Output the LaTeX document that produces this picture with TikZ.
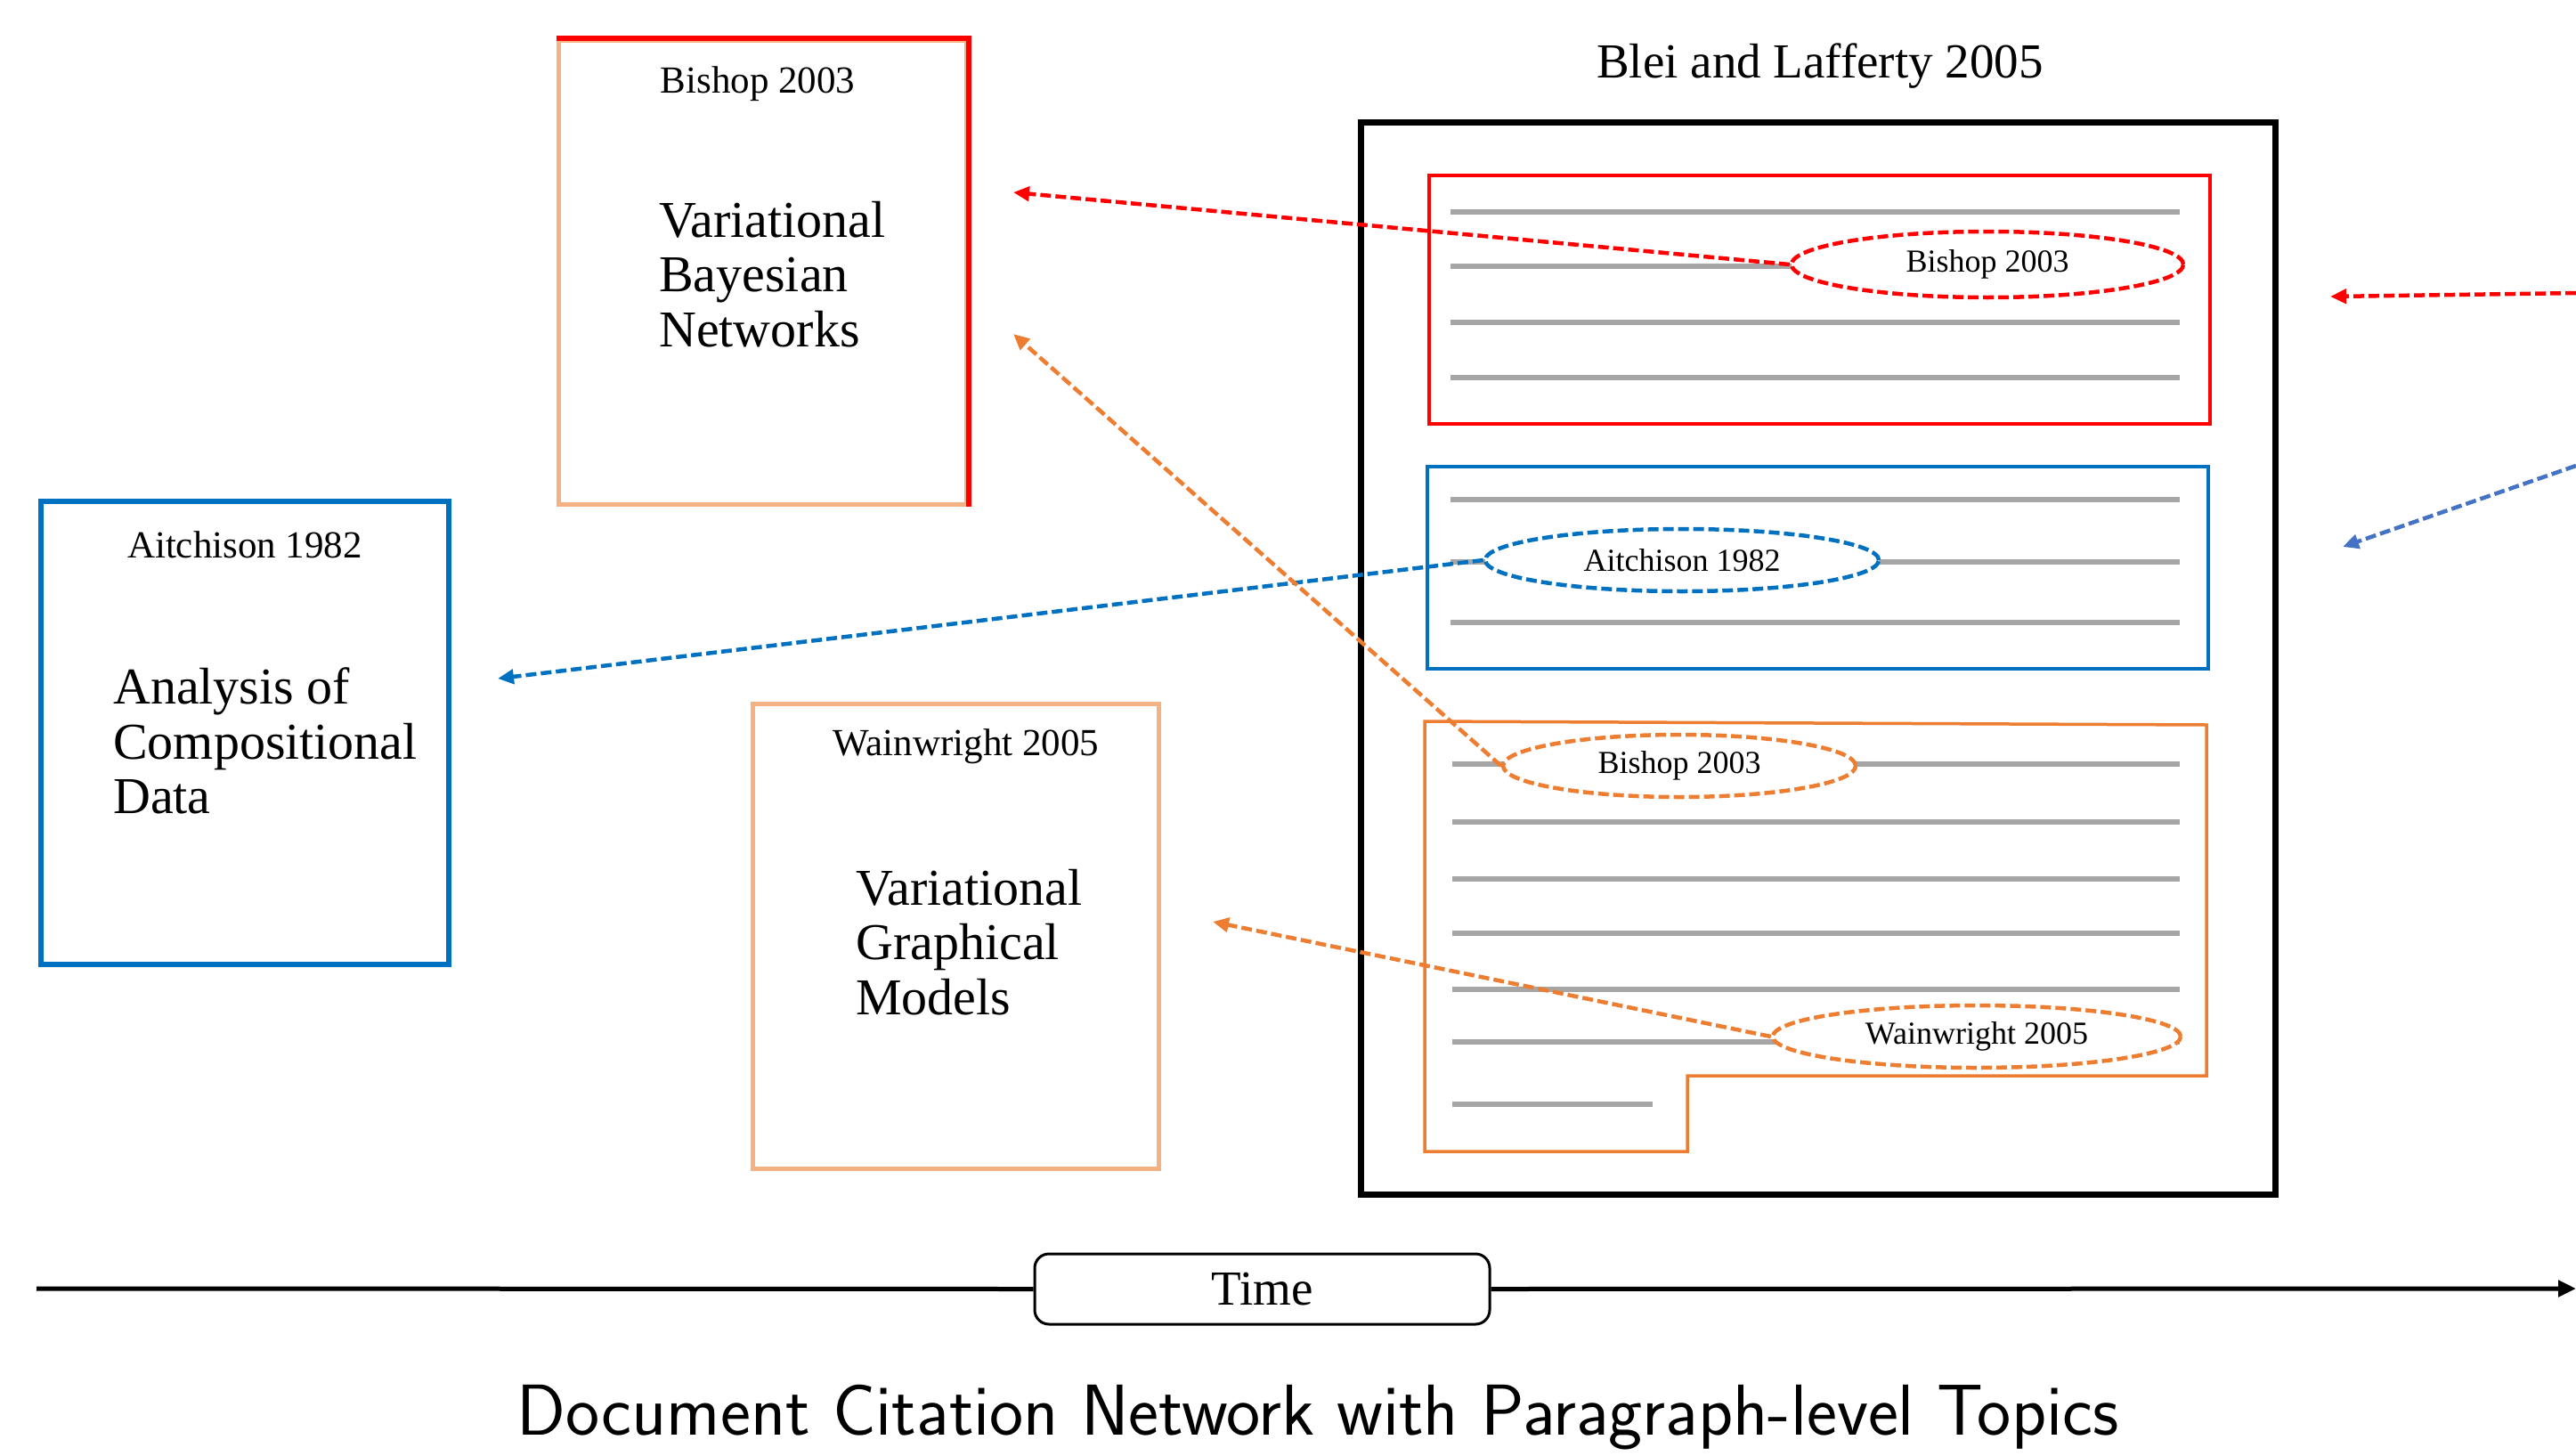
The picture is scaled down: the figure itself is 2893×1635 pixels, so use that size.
\documentclass[tikz,border=0pt]{standalone}
\usepackage{fontspec}
\setmainfont{Liberation Serif}
\usetikzlibrary{arrows.meta,shapes.geometric}
\definecolor{cred}{HTML}{FF0000}
\definecolor{cblue}{HTML}{0070C0}
\definecolor{cblueb}{HTML}{4472C4}
\definecolor{corange}{HTML}{ED7D31}
\definecolor{clight}{HTML}{F4B183}
\definecolor{cgrey}{HTML}{A6A6A6}
\tikzset{
  paper/.style={draw, line width=5pt, minimum width=458pt, minimum height=520pt, inner sep=0pt},
  parabox/.style={draw, line width=3.5pt, inner sep=0pt},
  txtline/.style={cgrey, line width=6pt},
  cite/.style={ellipse, draw, dash pattern=on 12pt off 5pt, line width=4.5pt, fill=white, inner sep=0pt, font=\fontsize{36}{40}\selectfont},
  citearrow/.style={dash pattern=on 12pt off 5pt, line width=4.5pt, -{Triangle[length=18pt,width=16pt]}},
  boxlabel/.style={font=\fontsize{43}{48}\selectfont, inner sep=0pt},
  bigtext/.style={font=\fontsize{58}{61.5}\selectfont, align=left, anchor=west, inner sep=0pt}
}
\begin{document}
\begin{tikzpicture}[x=1pt,y=-1pt]
\useasboundingbox[fill=white] (0,0) rectangle (2893,1635);

% cited papers
\node[paper, draw=clight] (bishop) at (856,306) {};
\draw[cred, line width=6pt] (bishop.north west) -- (bishop.north east) -- (bishop.south east);
\node[boxlabel] (bishoplab) at (851,94) {Bishop 2003};
\node[bigtext] (bishoptxt) at (740,308) {Variational\\Bayesian\\Networks};

\node[paper, draw=cblue, line width=6pt] (aitch) at (275,823) {};
\node[boxlabel] (aitchlab) at (275,612) {Aitchison 1982};
\node[bigtext] (aitchtxt) at (127,832) {Analysis of\\Compositional\\Data};

\node[paper, draw=clight, minimum width=456pt, minimum height=522pt] (wain) at (1073,1051) {};
\node[boxlabel] (wainlab) at (1085,838) {Wainwright 2005};
\node[bigtext] (waintxt) at (961,1058) {Variational\\Graphical\\Models};

% citing document
\node[font=\fontsize{55}{60}\selectfont, inner sep=0pt] (docttl) at (2044,74) {Blei and Lafferty 2005};
\node[draw, line width=7pt, minimum width=1027pt, minimum height=1203pt, inner sep=0pt] (doc) at (2041.5,739.5) {};

% red paragraph
\node[parabox, draw=cred, minimum width=877pt, minimum height=279pt] (pred) at (2043.5,336.5) {};
\foreach \yy in {238,299,362,424} \draw[txtline] (1629,\yy) -- (2448,\yy);
\node[cite, draw=cred, minimum width=440pt, minimum height=74pt] (ered) at (2232,297) {Bishop 2003};

% blue paragraph
\node[parabox, draw=cblue, minimum width=877pt, minimum height=227pt] (pblue) at (2041.5,637.5) {};
\foreach \yy in {561,631,699} \draw[txtline] (1629,\yy) -- (2448,\yy);
\node[cite, draw=cblue, minimum width=442pt, minimum height=70pt] (eblue) at (1889,629) {Aitchison 1982};

% orange paragraph
\draw[corange, line width=3.5pt] (1600,810) -- (2478,814) -- (2478,1208) -- (1895,1208) -- (1895,1293) -- (1600,1293) -- cycle;
\foreach \yy in {858,923,987,1048,1111,1170} \draw[txtline] (1631,\yy) -- (2448,\yy);
\draw[txtline] (1631,1240) -- (1856,1240);
\node[cite, draw=corange, minimum width=396pt, minimum height=70pt] (eob) at (1886,860) {Bishop 2003};
\node[cite, draw=corange, minimum width=458pt, minimum height=70pt] (eow) at (2220,1164) {Wainwright 2005};

% citation arrows
\coordinate (tred) at (1138,216);
\coordinate (tblue) at (559,762);
\coordinate (tob) at (1138,375);
\coordinate (tow) at (1362,1035);
\draw[citearrow, cred] (ered.west) -- (tred);
\draw[citearrow, cblue] (eblue.west) -- (tblue);
\draw[citearrow, corange] (eob.west) -- (tob);
\draw[citearrow, corange] (eow.west) -- (tow);

% arrows coming from the right
\coordinate (rred) at (2893,329);
\coordinate (rredt) at (2617,333);
\coordinate (rblue) at (2893,523);
\coordinate (rbluet) at (2631,614);
\draw[citearrow, cred] (rred) -- (rredt);
\draw[citearrow, cblueb] (rblue) -- (rbluet);

% time axis
\node[draw, line width=3pt, rounded corners=16pt, minimum width=511pt, minimum height=79pt, inner sep=0pt, font=\fontsize{55}{60}\selectfont] (time) at (1417.5,1447.5) {Time};
\coordinate (axs) at (41,1447);
\coordinate (axe) at (2893,1447);
\draw[line width=5pt] (axs) -- (time.west);
\draw[line width=5pt, -{Triangle[length=20pt,width=18pt]}] (time.east) -- (axe);

% caption
\node[font=\sffamily\fontsize{81}{90}\selectfont, inner sep=0pt] (caption) at (1480,1592) {Document Citation Network with Paragraph-level Topics};
\end{tikzpicture}
\end{document}
